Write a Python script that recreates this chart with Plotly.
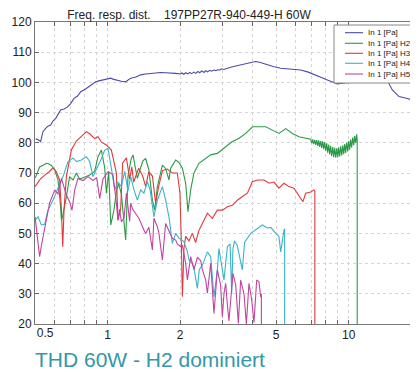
import plotly.graph_objects as go

# ---------------- data (kHz, dB) ----------------
fund_f = [0.503, 0.515, 0.527, 0.539, 0.553, 0.565, 0.580, 0.593, 0.609, 0.622, 0.638, 0.659, 0.680, 0.702,
          0.725, 0.750, 0.773, 0.810, 0.836, 0.865, 0.892, 0.920, 0.951, 0.990, 1.029, 1.060, 1.097, 1.140,
          1.188, 1.246, 1.310, 1.371, 1.438, 1.508, 1.582, 1.66, 1.74, 1.826, 1.915, 2.009,
          2.03, 2.07, 2.11, 2.15, 2.19, 2.23, 2.28, 2.32, 2.37, 2.41, 2.46, 2.51, 2.55, 2.60, 2.65, 2.70,
          2.76, 2.81, 2.86, 2.92, 2.97, 3.03,
          3.15, 3.24, 3.40, 3.56, 3.75, 3.92, 4.11, 4.30, 4.60, 4.90, 5.22, 5.60, 6.32, 6.80, 7.18, 7.70,
          8.16, 8.98, 9.40, 10.2, 11.0, 11.96, 13.0, 13.8, 14.47, 15.18, 16.17, 17.52, 18.5, 19.52]
fund_db = [81.3, 81.0, 80.4, 83.7, 84.8, 85.5, 85.9, 87.2, 88.1, 89.3, 90.9, 91.2, 91.8, 93.0,
           94.7, 95.5, 96.9, 97.8, 98.6, 99.2, 100.2, 100.5, 100.8, 101.2, 101.4, 101.0, 100.6, 100.4,
           100.2, 101.4, 101.8, 102.5, 102.8, 103.0, 103.2, 103.3, 103.2, 103.2, 103.0, 102.8,
           103.1, 102.7, 103.2, 102.8, 103.3, 102.9, 103.4, 103.0, 103.6, 103.2, 103.8, 103.3, 103.9, 103.5,
           104.0, 103.7, 104.1, 103.9, 104.2, 104.1, 104.5, 104.3,
           104.8, 105.0, 105.4, 105.8, 106.3, 106.6, 106.9, 106.6, 105.8, 105.2, 104.7, 104.4, 104.1, 103.4,
           102.5, 101.6, 100.8, 99.5, 99.7, 100.0, 100.4, 100.6, 101.0, 101.4, 100.6, 97.5, 95.3, 94.7,
           94.0, 93.6]

h2_f = [0.500, 0.522, 0.540, 0.557, 0.570, 0.584, 0.603, 0.622, 0.636, 0.643, 0.651, 0.674, 0.695, 0.718,
        0.742, 0.765, 0.800, 0.842, 0.883, 0.912, 0.942, 0.972, 0.988, 1.010, 1.030, 1.062, 1.087, 1.11,
        1.14, 1.188, 1.214, 1.25, 1.274, 1.30, 1.328, 1.36, 1.40, 1.438, 1.483, 1.533, 1.567, 1.608, 1.687,
        1.74, 1.796, 1.826, 1.915, 1.976, 2.042, 2.107, 2.154, 2.210, 2.281, 2.392, 2.510, 2.676, 2.852,
        3.038, 3.239, 3.29, 3.51, 3.74, 3.99, 4.25, 4.53, 4.82, 5.14, 5.48, 5.84, 6.22, 6.63,
        6.96, 7.03, 7.09, 7.16, 7.23, 7.30, 7.37, 7.44, 7.51, 7.58, 7.66, 7.73, 7.80, 7.88, 7.95, 8.03,
        8.11, 8.18, 8.26, 8.34, 8.42, 8.50, 8.59, 8.67, 8.75, 8.84, 8.92, 9.01, 9.09, 9.18, 9.27, 9.36,
        9.45, 9.54, 9.63, 9.72, 9.81, 9.91, 10.00, 10.10, 10.19, 10.29, 10.39, 10.49, 10.59, 10.69, 10.79,
        10.85, 10.85]
h2_db = [68.3, 72.0, 72.6, 73.2, 73.0, 72.5, 71.0, 67.7, 60.0, 54.4, 56.0, 62.0, 68.8, 67.7,
         70.0, 68.0, 68.6, 69.3, 70.5, 75.4, 77.6, 71.7, 63.3, 70.5, 52.8, 57.7, 64.0, 66.5,
         63.0, 47.8, 68.8, 74.5, 76.0, 72.0, 68.2, 71.0, 74.0, 74.8, 71.0, 61.0, 57.7, 65.5, 72.6,
         71.5, 67.7, 71.6, 74.3, 73.5, 71.6, 66.6, 57.2, 64.4, 70.0, 73.2, 74.3, 76.0, 76.5,
         78.2, 79.8, 80.4, 81.5, 83.1, 85.3, 85.3, 85.3, 84.2, 83.1, 84.7, 83.1, 82.0, 81.5,
         81.2, 79.9, 81.1, 79.6, 81.0, 79.3, 80.9, 79.0, 80.8, 78.65, 80.6, 78.3, 80.5, 77.9, 80.2, 77.35,
         79.8, 76.75, 79.4, 76.15, 79.0, 75.6, 78.6, 75.25, 78.3, 75.05, 78.2, 75.15, 78.5, 75.45, 78.8, 75.8,
         79.2, 76.2, 79.6, 76.65, 80.1, 77.15, 80.6, 77.7, 81.1, 78.45, 81.7, 79.2, 82.2, 79.9, 82.8,
         81.0, 20.0]

h3_f = [0.500, 0.522, 0.548, 0.574, 0.593, 0.612, 0.632, 0.643, 0.651, 0.659, 0.674, 0.707, 0.740, 0.778,
        0.816, 0.842, 0.883, 0.912, 0.942, 0.988, 1.036, 1.087, 1.103, 1.132, 1.154, 1.196, 1.234, 1.26,
        1.282, 1.345, 1.397, 1.438, 1.480, 1.533, 1.582, 1.628, 1.687, 1.769, 1.855, 1.946, 1.995, 2.022,
        2.042, 2.073, 2.107, 2.175, 2.246, 2.318, 2.392, 2.472, 2.593, 2.719, 2.852, 2.992, 3.139, 3.292,
        3.453, 3.622, 3.800, 3.986, 4.181, 4.453, 4.670, 4.898, 5.137, 5.389, 5.654, 5.930, 6.220, 6.461,
        6.634, 6.959, 7.178, 7.24, 7.24]
h3_db = [65.5, 67.7, 69.3, 70.5, 71.7, 70.5, 67.7, 57.7, 45.6, 57.7, 68.8, 77.6, 80.5, 82.0,
         83.7, 83.0, 81.4, 82.0, 80.2, 79.3, 77.6, 70.0, 54.4, 58.0, 73.3, 75.0, 68.0, 72.0,
         67.0, 71.6, 69.0, 65.5, 70.4, 69.0, 60.0, 65.5, 70.8, 71.3, 70.0, 70.0, 63.4, 46.8,
         29.0, 45.0, 49.0, 47.5, 50.0, 47.0, 51.0, 53.3, 56.7, 55.0, 57.7, 57.7, 58.8, 59.3,
         61.0, 62.2, 63.3, 67.1, 67.7, 67.7, 66.6, 67.0, 65.0, 66.6, 65.5, 65.0, 62.7, 60.5,
         63.3, 63.7, 64.4, 64.0, 20.0]

h4_f = [0.500, 0.514, 0.531, 0.548, 0.565, 0.593, 0.622, 0.653, 0.684, 0.718, 0.742, 0.778, 0.816, 0.842,
        0.869, 0.898, 0.942, 0.972, 1.003, 1.036, 1.069, 1.103, 1.140, 1.177, 1.214, 1.246, 1.286, 1.328,
        1.371, 1.414, 1.461, 1.50, 1.556, 1.608, 1.687, 1.74, 1.796, 1.855, 1.915, 1.976, 2.07, 2.142,
        2.175, 2.246, 2.281, 2.356, 2.40, 2.472, 2.593, 2.676, 2.761, 2.852, 2.896, 2.95, 3.038, 3.139,
        3.22, 3.27, 3.31, 3.36, 3.45, 3.62, 3.70, 3.92, 4.18, 4.386, 4.60, 4.75, 4.980, 5.137, 5.224,
        5.307, 5.389, 5.425, 5.425]
h4_db = [54.4, 55.5, 52.8, 53.0, 57.7, 61.0, 65.0, 68.8, 73.7, 75.0, 73.8, 74.3, 75.4, 73.8,
         68.8, 71.2, 74.8, 77.6, 78.2, 71.6, 64.4, 67.0, 65.5, 70.5, 64.0, 68.8, 64.4, 61.0,
         64.4, 63.3, 67.1, 64.4, 55.5, 61.0, 65.5, 61.0, 55.5, 46.7, 50.0, 48.5, 47.3, 44.0,
         41.2, 40.0, 38.4, 31.8, 38.0, 39.5, 43.9, 42.3, 29.0, 37.9, 45.0, 41.0, 34.6, 45.6,
         46.5, 30.0, 45.0, 47.5, 46.0, 37.9, 47.0, 50.0, 51.7, 52.8, 51.8, 52.0, 50.0, 49.0, 43.9,
         48.0, 51.1, 51.5, 20.0]

h5_f = [0.500, 0.510, 0.522, 0.531, 0.548, 0.574, 0.603, 0.622, 0.643, 0.674, 0.695, 0.711, 0.730, 0.753,
        0.790, 0.829, 0.869, 0.900, 0.927, 0.956, 1.003, 1.052, 1.087, 1.103, 1.12, 1.14, 1.169, 1.196,
        1.234, 1.246, 1.27, 1.307, 1.348, 1.414, 1.438, 1.483, 1.533, 1.556, 1.608, 1.632, 1.687, 1.740,
        1.769, 1.826, 1.855, 1.915, 1.946, 2.009, 2.042, 2.107, 2.142, 2.210, 2.281, 2.356, 2.432, 2.472,
        2.551, 2.593, 2.676, 2.761, 2.852, 2.94, 2.992, 3.038, 3.088, 3.139, 3.186, 3.311, 3.398, 3.486,
        3.564, 3.678, 3.763, 3.858, 3.959, 4.047, 4.153, 4.245, 4.315, 4.343, 4.343]
h5_db = [55.4, 50.0, 42.3, 46.0, 52.2, 60.0, 64.4, 63.0, 68.2, 62.7, 60.5, 57.7, 64.4, 68.2,
         67.5, 68.8, 67.5, 68.5, 61.6, 68.0, 70.4, 69.5, 60.0, 54.4, 58.0, 53.9, 55.0, 63.3,
         54.0, 60.0, 58.0, 56.7, 55.0, 51.1, 50.0, 52.0, 44.5, 55.0, 52.2, 50.0, 41.2, 53.3,
         52.0, 50.0, 48.4, 47.8, 46.5, 45.6, 46.0, 40.1, 34.6, 42.3, 38.0, 42.0, 41.0, 38.0,
         34.6, 30.2, 40.1, 23.5, 37.9, 33.0, 22.4, 30.0, 33.5, 26.2, 21.0, 36.8, 33.0, 20.2,
         34.6, 30.0, 20.0, 33.5, 28.0, 20.5, 34.6, 34.0, 29.0, 30.0, 20.0]

series_names = ["In 1 [Pa]", "In 1 [Pa] H2", "In 1 [Pa] H3", "In 1 [Pa] H4", "In 1 [Pa] H5"]
series_colors = ["#4b4ba8", "#2a9a48", "#e0393b", "#3ab3c8", "#c2449f"]

x_tickvals = [0.5, 0.6, 0.7, 0.8, 0.9, 1, 2, 3, 4, 5, 6, 7, 8, 9, 10]
x_ticktext = ["", "", "", "", "", "1", "2", "", "", "5", "", "", "", "", "10"]
x_first_tick = [0.5]
x_first_text = ["0.5"]
y_tickvals = [20, 30, 40, 50, 60, 70, 80, 90, 100, 110, 120]

title_text = "Freq. resp. dist.    197PP27R-940-449-H 60W"
caption_text = "THD 60W - H2 dominiert"

# ---------------- figure ----------------
FONT = "Liberation Sans, Arial, sans-serif"
X_RANGE = [-0.3015, 1.2877]
fig = go.Figure()
all_f = [fund_f, h2_f, h3_f, h4_f, h5_f]
all_db = [fund_db, h2_db, h3_db, h4_db, h5_db]
for fx, dy, nm, col in zip(all_f, all_db, series_names, series_colors):
    fig.add_trace(go.Scatter(x=fx, y=dy, mode="lines", name=nm,
                             line=dict(color=col, width=1.1), showlegend=False))
# empty trace so the overlay axis (carrying only the "0.5" label) is drawn
fig.add_trace(go.Scatter(x=[], y=[], xaxis="x2", yaxis="y", mode="lines",
                         showlegend=False, hoverinfo="skip"))

# page body has an 8px margin, so the figure is 410x364 and sits at (8, 8)
fig.update_layout(
    width=410, height=364,
    margin=dict(l=27, r=0, t=14, b=48),
    paper_bgcolor="white", plot_bgcolor="white",
    font=dict(family=FONT, size=12, color="#222"),
    title=dict(text=title_text, x=0.4415, xanchor="center", y=0.981, yanchor="middle",
               font=dict(family=FONT, size=12, color="#222")),
    xaxis=dict(type="log", range=X_RANGE,
               tickmode="array", tickvals=x_tickvals, ticktext=x_ticktext,
               ticks="inside", ticklen=4, tickcolor="#666",
               showline=True, linecolor="#777", linewidth=1, mirror="ticks",
               showgrid=True, gridcolor="#d9d3d3", griddash="dot", gridwidth=1,
               zeroline=False, tickfont=dict(family=FONT, size=12, color="#222")),
    # overlay axis only used to place the first ("0.5") label right of its tick, as in the original
    xaxis2=dict(type="log", range=X_RANGE, overlaying="x", side="bottom", anchor="y",
                tickmode="array", tickvals=x_first_tick, ticktext=x_first_text,
                ticks="", showgrid=False, showline=False, zeroline=False, ticklabelshift=10,
                tickfont=dict(family=FONT, size=12, color="#222")),
    yaxis=dict(range=[20, 120], tickmode="array", tickvals=y_tickvals,
               ticks="inside", ticklen=4, tickcolor="#666",
               showline=True, linecolor="#777", linewidth=1,
               showgrid=True, gridcolor="#d9d3d3", griddash="dot", gridwidth=1,
               zeroline=False, tickfont=dict(family=FONT, size=12, color="#222")),
)

# clipped "20" label at the right edge (cropped in the original)
fig.add_annotation(text="20", xref="paper", yref="paper", x=1.0068, y=-0.03,
                   xanchor="center", yanchor="middle", showarrow=False,
                   font=dict(family=FONT, size=12, color="#222"))

# legend box (MATLAB style)
fig.add_shape(type="rect", xref="paper", yref="paper", x0=0.7807, x1=1.03, y0=0.798, y1=0.990,
              line=dict(color="#888", width=1), fillcolor="white", layer="above")
leg_y = [0.9646, 0.9295, 0.8964, 0.8633, 0.8278]
for nm, col, ly in zip(series_names, series_colors, leg_y):
    fig.add_shape(type="line", xref="paper", yref="paper", x0=0.8094, x1=0.8564, y0=ly, y1=ly,
                  line=dict(color=col, width=1.1), layer="above")
    fig.add_annotation(text=nm, xref="paper", yref="paper", x=0.8642, y=ly,
                       xanchor="left", yanchor="middle", showarrow=False,
                       font=dict(family=FONT, size=8, color="#222"))

# caption below the chart
fig.add_annotation(text=caption_text, xref="paper", yref="paper", x=-0.005, y=-0.116,
                   xanchor="left", yanchor="middle", showarrow=False,
                   font=dict(family=FONT, size=21, color="#3497a6"))

fig.write_html("out.html")
